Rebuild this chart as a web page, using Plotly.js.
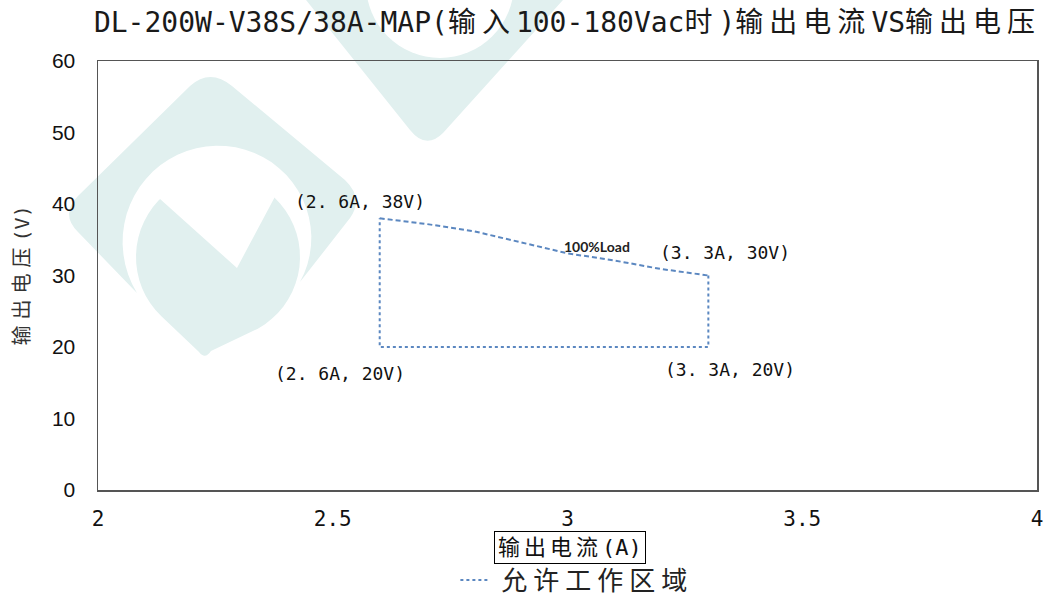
<!DOCTYPE html>
<html>
<head>
<meta charset="utf-8">
<script src="https://cdn.plot.ly/plotly-3.0.1.min.js"></script>
<style>
html,body{margin:0;padding:0;background:#fff;}
#chart{width:1047px;height:597px;}
</style>
</head>
<body>
<div id="chart"></div>
<script>
// ---- data ----
const topCurrent = [2.6, 2.7, 2.8, 2.9, 3.0, 3.1, 3.2, 3.3];
const topVoltage = [38, 37.2, 36.2, 34.6, 33.1, 32.1, 30.9, 30];
const sideCurrent = [3.3, 3.3, 2.6, 2.6];
const sideVoltage = [30, 20, 20, 38];
const cornerLabels = ['(2. 6A, 38V)', '(3. 3A, 30V)', '(2. 6A, 20V)', '(3. 3A, 20V)'];
const cornerCurrent = [2.6, 3.3, 2.6, 3.3];
const cornerVoltage = [38, 30, 20, 20];
const loadLabel = '100%Load';
const loadCurrent = 3.0;
const loadVoltage = 33.1;
const seriesName = '允许工作区域';
const chartTitle = 'DL-200W-V38S/38A-MAP(输入100-180Vac时)输出电流VS输出电压';
const xTitle = '输出电流(A)';
const yTitle = '输出电压(V)';

// ---- helpers ----
function cjkSpace(s, px) {
  return s.replace(/([\u4e00-\u9fff]+)/g, '<span style="letter-spacing:' + px + 'px">$1</span>');
}
// page-pixel -> paper coordinates (plot area: x 98..1037, y 61..490)
const PL = 98, PR = 1037, PT = 61, PB = 490;
function X(px) { return ((px - PL) / (PR - PL)).toFixed(4); }
function Y(py) { return ((PB - py) / (PB - PT)).toFixed(4); }
function pathFrom(cmds) {
  return cmds.map(c => {
    const op = c[0];
    const nums = c.slice(1);
    const parts = [];
    for (let i = 0; i < nums.length; i += 2) parts.push(X(nums[i]) + ',' + Y(nums[i + 1]));
    return op + parts.join(' ');
  }).join(' ') + ' Z';
}
function arcPts(cx, cy, r0, r1, a0, a1, n) {
  const pts = [];
  for (let i = 0; i <= n; i++) {
    const t = i / n;
    const a = (a0 + (a1 - a0) * t) * Math.PI / 180;
    const r = r0 + (r1 - r0) * t;
    pts.push(['L', cx + r * Math.cos(a), cy + r * Math.sin(a)]);
  }
  return pts;
}
const WM = '#e1f0ef';
const shapes = [];
function addPath(cmds, color) {
  shapes.push({type: 'path', xref: 'paper', yref: 'paper', layer: 'below',
    path: pathFrom(cmds), fillcolor: color, line: {width: 0}});
}
// left logo outer arch
(function () {
  const cx = 220, cy = 240;
  const cmds = [['M', 137, 293], ['L', 78, 232], ['Q', 60, 214, 78, 196], ['L', 190, 86],
    ['Q', 210, 68, 232, 86], ['L', 345, 180], ['Q', 364, 198, 350, 218], ['L', 300, 282]];
  const a0 = Math.atan2(282 - cy, 300 - cx) * 180 / Math.PI;
  const a1 = Math.atan2(293 - cy, 137 - cx) * 180 / Math.PI - 360;
  const r0 = Math.hypot(300 - cx, 282 - cy), r1 = Math.hypot(137 - cx, 293 - cy);
  arcPts(cx, cy, r0, r1, a0, a1, 40).forEach(p => cmds.push(p));
  addPath(cmds, WM);
})();
// left logo inner teardrop
(function () {
  const cx = 218, cy = 257, r = 82, px = 205, py = 358;
  const d = Math.hypot(px - cx, py - cy);
  const dir = Math.atan2(py - cy, px - cx) * 180 / Math.PI;
  const off = Math.acos(r / d) * 180 / Math.PI;
  const aR = dir - off, aL = dir + off - 360;
  const pts = arcPts(cx, cy, r, r, aR, aL, 48);
  const cmds = [['M', pts[0][1], pts[0][2]]].concat(pts.slice(1));
  cmds.push(['L', px - 6, py - 6]);
  cmds.push(['Q', px, py + 2, px + 6, py - 7]);
  addPath(cmds, WM);
})();
// white V notch
addPath([['M', 150, 190], ['L', 237, 268], ['L', 285, 178], ['L', 265, 170], ['L', 170, 168]], '#ffffff');
// top logo
addPath([['M', 282, -30], ['L', 410, 130], ['Q', 426, 150, 443, 133], ['L', 590, -30]], WM);
shapes.push({type: 'circle', xref: 'paper', yref: 'paper', layer: 'below',
  x0: X(366), x1: X(514), y0: Y(58), y1: Y(-90), fillcolor: '#ffffff', line: {width: 0}});

// ---- traces ----
const lineColor = '#5b87c0';
const traces = [
  {x: sideCurrent, y: sideVoltage, type: 'scatter', mode: 'lines', name: '\u00a0' + cjkSpace(seriesName, 6),
   line: {color: lineColor, width: 2, dash: 'dot'}, hoverinfo: 'skip'},
  {x: topCurrent, y: topVoltage, type: 'scatter', mode: 'lines', showlegend: false,
   line: {color: lineColor, width: 2, dash: '5px,3px'}, hoverinfo: 'skip'}
];

// ---- annotations ----
const monoCJK = 'DejaVu Sans Mono, Noto Sans CJK SC, sans-serif';
const labelShift = [[-20, 17], [17, 23], [-40, -26], [22, -22]];
const annotations = cornerLabels.map((t, i) => ({
  x: cornerCurrent[i], y: cornerVoltage[i], xref: 'x', yref: 'y', text: t, showarrow: false,
  xshift: labelShift[i][0], yshift: labelShift[i][1],
  font: {family: monoCJK, size: 18, color: '#111'}
}));
annotations.push({x: loadCurrent, y: loadVoltage, xref: 'x', yref: 'y', text: '<b>' + loadLabel + '</b>',
  showarrow: false, xshift: 29, yshift: 7, font: {family: 'Lato, Liberation Sans, sans-serif', size: 14, color: '#222'}});
annotations.push({x: -0.081, y: 0.5, xref: 'paper', yref: 'paper', xanchor: 'center', yanchor: 'middle',
  text: cjkSpace(yTitle, 6), textangle: -90, showarrow: false, font: {family: monoCJK, size: 20, color: '#333'}});
annotations.push({x: 0.503, y: -0.133, xref: 'paper', yref: 'paper', xanchor: 'center', yanchor: 'middle',
  text: cjkSpace(xTitle, 4), showarrow: false, bordercolor: '#000', borderwidth: 1, borderpad: 3,
  font: {family: monoCJK, size: 22, color: '#111'}});

const layout = {
  width: 1047, height: 597,
  margin: {l: PL, r: 1047 - PR, t: PT, b: 597 - PB, pad: 0, autoexpand: false},
  paper_bgcolor: '#ffffff', plot_bgcolor: 'rgba(0,0,0,0)',
  title: {text: cjkSpace(chartTitle, 6), x: 0.5, xref: 'paper', xanchor: 'center',
    y: 1 - 22 / 597, yref: 'container', yanchor: 'middle',
    font: {family: monoCJK, size: 28, color: '#1a1a1a'}},
  xaxis: {range: [2, 4], dtick: 0.5, tick0: 2, showgrid: false, zeroline: false,
    showline: true, mirror: true, linecolor: '#555', linewidth: 1.5,
    ticks: 'outside', ticklen: 9, tickcolor: 'rgba(0,0,0,0)', automargin: false,
    tickfont: {family: 'DejaVu Sans Mono, monospace', size: 21, color: '#111'}, fixedrange: true},
  yaxis: {range: [0, 60], dtick: 10, showgrid: false, zeroline: false,
    showline: true, mirror: true, linecolor: '#555', linewidth: 1.5,
    ticks: 'outside', ticklen: 17, tickcolor: 'rgba(0,0,0,0)', automargin: false,
    tickfont: {family: 'Liberation Sans, Arial, sans-serif', size: 21, color: '#111'}, fixedrange: true},
  showlegend: true,
  legend: {orientation: 'h', x: 0.51, xanchor: 'center', xref: 'paper', yref: 'container', y: 1 - 580 / 597, yanchor: 'middle',
    font: {family: 'Noto Sans CJK SC, sans-serif', size: 26, color: '#222'}, bgcolor: 'rgba(0,0,0,0)'},
  shapes: shapes,
  annotations: annotations
};

Plotly.newPlot('chart', traces, layout, {staticPlot: true, displayModeBar: false});
</script>
</body>
</html>
